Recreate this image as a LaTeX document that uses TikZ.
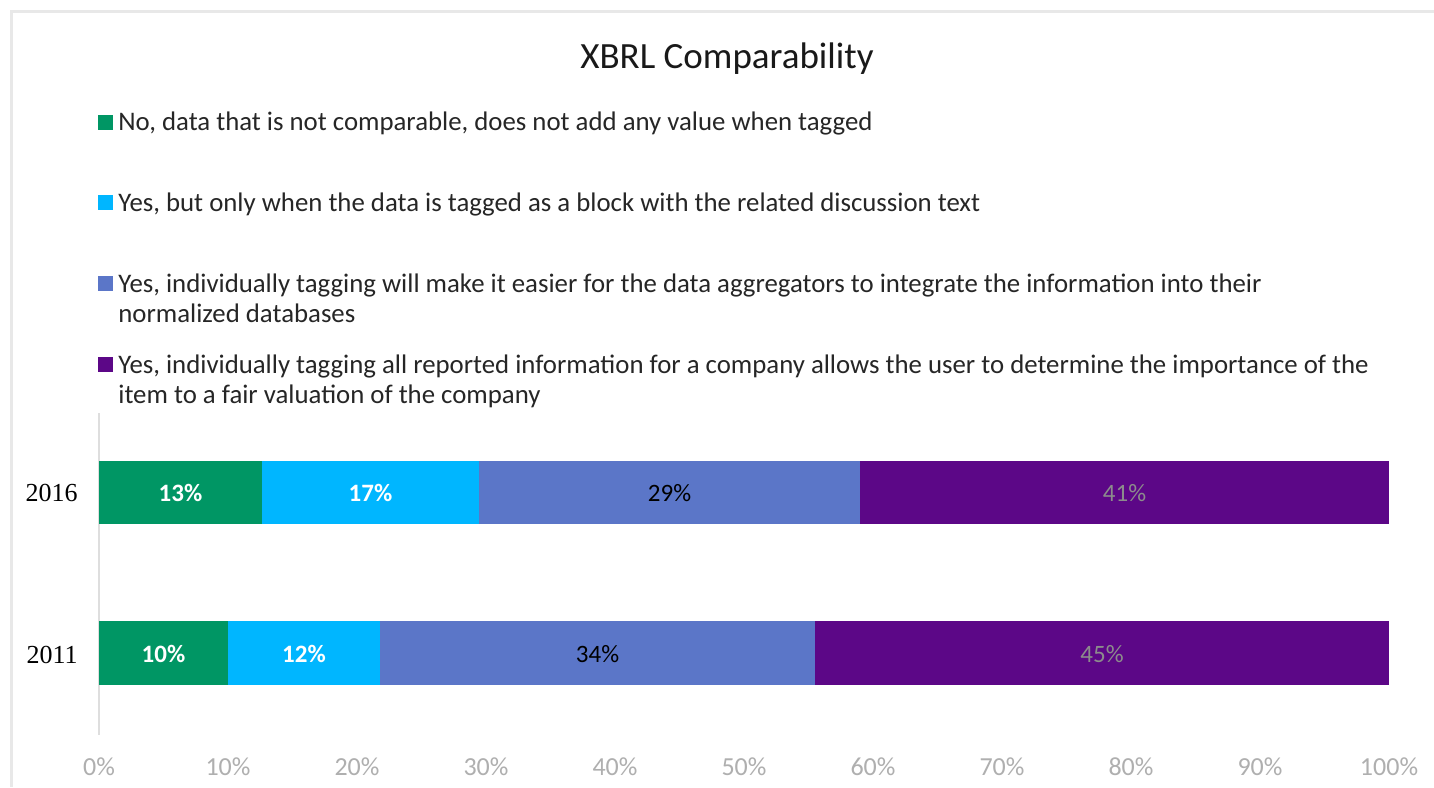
\documentclass[tikz,border=0pt]{standalone}
\usepackage{fontspec}
\setmainfont{Carlito}
\newfontfamily\yearfont{Liberation Serif}
\usetikzlibrary{positioning}
\definecolor{xgreen}{RGB}{0,150,100}
\definecolor{xcyan}{RGB}{0,182,255}
\definecolor{xblue}{RGB}{91,118,200}
\definecolor{xpurple}{RGB}{92,7,135}
\definecolor{framegray}{RGB}{232,232,232}
\definecolor{axisgray}{RGB}{222,222,222}
\definecolor{ticktext}{RGB}{175,175,175}
\definecolor{onpurple}{RGB}{140,140,140}

\begin{document}
\begin{tikzpicture}[x=0.5pt,y=-0.5pt,
		legsq/.style={inner sep=0pt,minimum size=7.5pt},
		legtext/.style={anchor=base west,inner sep=0pt,font=\fontsize{13.4}{15}\selectfont,text=black!85,align=left},
		year/.style={anchor=east,inner sep=0pt,font=\yearfont\fontsize{13}{15}\selectfont},
		tick/.style={inner sep=0pt,text=ticktext,font=\fontsize{13}{15}\selectfont},
		light/.style={inner sep=0pt,text=white,font=\bfseries\fontsize{12.5}{14}\selectfont},
		dark/.style={inner sep=0pt,text=black,font=\fontsize{12.5}{14}\selectfont},
		muted/.style={inner sep=0pt,text=onpurple,font=\fontsize{12.5}{14}\selectfont}]
		\useasboundingbox (0,0) rectangle (1434,787);
		\fill[white] (0,0) rectangle (1434,787);
		\draw[framegray,line width=1.5pt] (11,787) -- (11,11) -- (1434,11);

		\node[font=\fontsize{18.5}{22}\selectfont,text=black!90]	(title)	at (727,59)	{XBRL Comparability};

		\node[legsq,fill=xgreen]		(sq1)	at (105,122)	{};
		\node[legsq,fill=xcyan]			(sq2)	at (105,202)	{};
		\node[legsq,fill=xblue]			(sq3)	at (105,283)	{};
		\node[legsq,fill=xpurple]		(sq4)	at (105,364)	{};
		\node[legtext]	(leg1)	at (118,130)	{No, data that is not comparable, does not add any value when tagged};
		\node[legtext]	(leg2)	at (118,211)	{Yes, but only when the data is tagged as a block with the related discussion text};
		\node[legtext]	(leg3)	at (118,322)	{Yes, individually tagging will make it easier for the data aggregators to integrate the information into their\\normalized databases};
		\node[legtext]	(leg4)	at (118,403)	{Yes, individually tagging all reported information for a company allows the user to determine the importance of the\\item to a fair valuation of the company};

		\coordinate	(axtop)	at (99,413);
		\coordinate	(axbot)	at (99,735);
		\draw[axisgray,line width=0.6pt] (axtop) -- (axbot);

		\foreach \a/\b/\c/\t/\s [count=\i] in {99/262/xgreen/13\%/light,262/479/xcyan/17\%/light,479/860/xblue/29\%/dark,860/1389/xpurple/41\%/muted}{
			\fill[\c] (\a,461) rectangle (\b,524);
			\node[\s]	(new\i)	at ({(\a+\b)/2},493)	{\t};
		}
		\foreach \a/\b/\c/\t/\s [count=\i] in {99/228/xgreen/10\%/light,228/380/xcyan/12\%/light,380/815/xblue/34\%/dark,815/1389/xpurple/45\%/muted}{
			\fill[\c] (\a,621) rectangle (\b,685);
			\node[\s]	(old\i)	at ({(\a+\b)/2},654)	{\t};
		}

		\node[year]	(y2016)	at (78,493)	{2016};
		\node[year]	(y2011)	at (78,655)	{2011};

		\foreach \p in {0,10,...,100}{
			\node[tick]	(tick\p)	at ({99+12.9*\p},767)	{\p\%};
		}
	\end{tikzpicture}
\end{document}
